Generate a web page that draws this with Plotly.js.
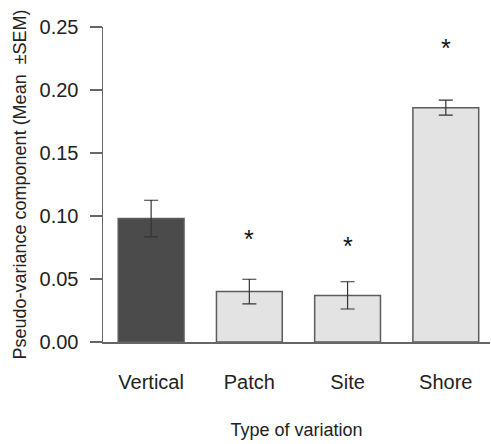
<!DOCTYPE html>
<html>
<head>
<meta charset="utf-8">
<script src="https://cdn.plot.ly/plotly-3.0.1.min.js"></script>
<style>html,body{margin:0;padding:0;background:#fff;}#chart{width:491px;height:444px;}</style>
</head>
<body>
<div id="chart"></div>
<script>
var categories = ["Vertical", "Patch", "Site", "Shore"];
var means = [0.098, 0.040, 0.037, 0.186];
var sem = [0.0145, 0.0098, 0.0108, 0.0060];
var barColors = ["#4b4b4b", "#e3e3e3", "#e3e3e3", "#e3e3e3"];
var starCategories = ["Patch", "Site", "Shore"];
var starY = [0.082, 0.076, 0.233];
var yTicks = [0, 0.05, 0.10, 0.15, 0.20, 0.25];
var yTickText = ["0.00", "0.05", "0.10", "0.15", "0.20", "0.25"];

var trace = {
  type: "bar",
  x: categories,
  y: means,
  marker: {color: barColors, line: {color: "#5c5c5c", width: 1.5}},
  error_y: {type: "data", array: sem, visible: true, color: "#333", thickness: 1.2, width: 7},
  hoverinfo: "none"
};

var annotations = starCategories.map(function(c, i){
  return {x: c, y: starY[i], xref: "x", yref: "y", text: "*", showarrow: false,
    font: {family: "Liberation Sans, Arial, sans-serif", size: 25, color: "#111"}, yanchor: "middle"};
});

var layout = {
  width: 491, height: 444,
  margin: {l: 103, r: 1, t: 27, b: 102},
  paper_bgcolor: "#fff", plot_bgcolor: "#fff",
  font: {family: "Liberation Sans, Arial, sans-serif", color: "#222"},
  bargap: 0.33,
  showlegend: false,
  xaxis: {
    type: "category",
    range: [-0.49, 3.45],
    showline: true, linecolor: "#666", linewidth: 1.5,
    ticks: "outside", ticklen: 21, tickcolor: "rgba(0,0,0,0)",
    tickfont: {size: 20, color: "#222"},
    showgrid: false, zeroline: false,
    title: {text: "Type of variation", font: {size: 18, color: "#222"}, standoff: 32}
  },
  yaxis: {
    range: [0, 0.25],
    tickvals: yTicks, ticktext: yTickText,
    showline: true, linecolor: "#666", linewidth: 1.5,
    ticks: "outside", ticklen: 12, tickcolor: "#666", tickwidth: 1.5,
    tickfont: {size: 20, color: "#222"},
    ticklabelstandoff: 7,
    showgrid: false, zeroline: false,
    title: {text: "Pseudo-variance component (Mean \u00a0\u00b1SEM)", font: {size: 18, color: "#222"}, standoff: 8}
  },
  annotations: annotations
};

Plotly.newPlot("chart", [trace], layout, {displayModeBar: false, staticPlot: true});
</script>
</body>
</html>
